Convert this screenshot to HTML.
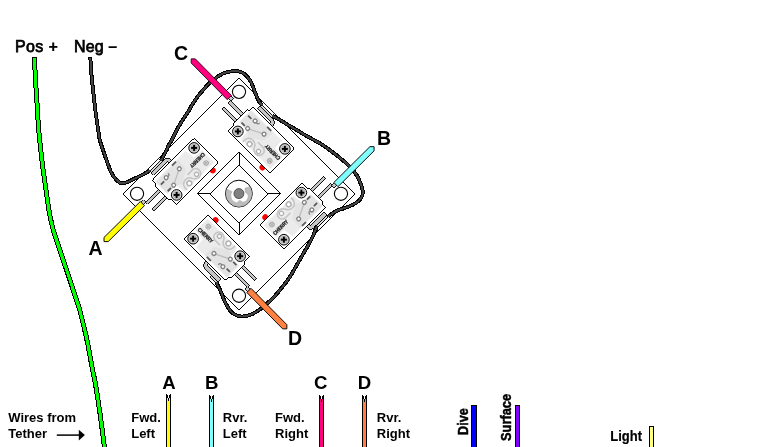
<!DOCTYPE html>
<html>
<head>
<meta charset="utf-8">
<title>Joystick wiring</title>
<style>
html,body{margin:0;padding:0;background:#fff;}
body{width:775px;height:447px;overflow:hidden;position:relative;font-family:"Liberation Sans",sans-serif;}
svg{position:absolute;left:0;top:0;display:block;will-change:transform;}
text{font-family:"Liberation Sans",sans-serif;fill:#000;}
.b{font-weight:bold;}
</style>
</head>
<body>
<svg width="775" height="447" viewBox="0 0 775 447">
<defs>
  <!-- screw -->
  <g id="screw">
    <circle r="5.3" fill="#d6d6d6" stroke="#000" stroke-width="1" shape-rendering="geometricPrecision"/>
    <circle r="3.8" fill="#b8b8b8" shape-rendering="geometricPrecision"/>
    <rect x="-3" y="-0.95" width="6" height="1.9" fill="#000" shape-rendering="geometricPrecision"/>
    <rect x="-0.95" y="-3" width="1.9" height="6" fill="#000" shape-rendering="geometricPrecision"/>
  </g>
  <!-- one micro switch, drawn in un-rotated plate frame (top position) -->
  <g id="sw">
    <!-- terminals -->
    <g fill="#c6c6c6" stroke="#000" stroke-width="0.9">
      <rect x="-72" y="-60.1" width="20" height="3"/>
      <rect x="-76.4" y="-63.4" width="4.8" height="3.6"/>
      <rect x="-72.3" y="-50.6" width="20" height="3"/>
      <!-- common terminal with crimp -->
      <path d="M-47.2,-77 L-29,-77 Q-24.4,-77 -24.4,-73.6 L-24.4,-70 L-28,-70 L-28,-73.3 L-47.2,-73.3 Z"/>
    </g>
    <!-- plunger -->
    <circle cx="-2" cy="-35.2" r="3" fill="#ff0000" shape-rendering="geometricPrecision"/>
    <!-- body -->
    <path d="M-50.4,-71 L6.3,-71 Q7.5,-71 7.5,-69.8 L7.5,-38.2 Q7.5,-36.7 6,-36.7 L-50.8,-36.7 Q-52,-36.7 -52,-37.9 L-52,-44.6 L-53.9,-45.6 L-53.9,-64.4 Q-53.8,-65.4 -52.6,-65.8 Q-51.6,-66.2 -51.6,-67.2 L-51.6,-69.8 Q-51.6,-71 -50.4,-71 Z" fill="#fff" stroke="#000" stroke-width="1"/>
    <!-- inner shading -->
    <path d="M-50.5,-68 L-7.5,-68 L-6.5,-57.5 L4.6,-57 L4.6,-40 L-37,-40 L-38.5,-50.5 L-50.5,-51 Z" fill="#ebebeb" shape-rendering="geometricPrecision"/>
    <path d="M-50.5,-67 L-19,-67 L-20,-55 L-33,-47 L-38.5,-50.5 L-50.5,-51 Z" fill="#e3e3e3" shape-rendering="geometricPrecision"/>
    <!-- schematic -->
    <g fill="#fff" stroke="#838383" stroke-width="1.3" shape-rendering="geometricPrecision">
      <path d="M-26,-59.2 L-38.6,-53" stroke="#bdbdbd" fill="none"/>
      <circle cx="-24.5" cy="-59.9" r="1.9"/>
      <circle cx="-40.1" cy="-52.3" r="1.9"/>
      <circle cx="-40.1" cy="-62.9" r="1.9"/>
      <path d="M-38.2,-62.6 Q-35.4,-61.6 -35.6,-64.8" fill="none"/>
    </g>
    <g fill="#5a5a5a" shape-rendering="geometricPrecision">
      <rect x="-27.4" y="-68.2" width="5.6" height="1.8"/>
      <rect x="-48.8" y="-62.6" width="4.6" height="1.8"/>
      <rect x="-48.6" y="-53.1" width="4.6" height="1.8"/>
    </g>
    <!-- cam -->
    <g fill="none" stroke="#b0b0b0" stroke-width="1.2" shape-rendering="geometricPrecision">
      <path d="M-34,-39.4 Q-34.6,-47.6 -28,-47.8 Q-23.6,-47.6 -22.2,-44 Q-20,-40 -16.2,-39.8 Q-11.2,-40.6 -11.4,-45.6 Q-11.8,-49.2 -16,-49.8 L-23,-49.8" stroke="#c4c4c4" stroke-width="1.5"/>
      <circle cx="-16.2" cy="-43.8" r="2.1" fill="#fff"/>
      <circle cx="-27.6" cy="-42.6" r="2.4" fill="#fff" stroke-width="1.4"/>
      <circle cx="-1.5" cy="-45" r="2.3"/>
      <path d="M-3.8,-45 L0.8,-45 M-1.5,-47.3 L-1.5,-42.7"/>
    </g>
    <!-- CHERRY (upside down) -->
    <text transform="translate(3.9,-55) rotate(180)" font-size="5.4" font-weight="bold" fill="#333" stroke="#333" stroke-width="0.3" textLength="19" lengthAdjust="spacingAndGlyphs">CHERRY</text>
    <!-- screws -->
    <use href="#screw" transform="translate(0.7,-64.2) rotate(45)"/>
    <use href="#screw" transform="translate(-44.9,-43.3) rotate(45)"/>
  </g>
  <g id="crimp" fill="#c6c6c6" stroke="#000" stroke-width="0.9">
    <rect x="-50" y="-82" width="20.4" height="2.8" fill="#fff"/>
    <rect x="-46.5" y="-79.2" width="15.5" height="2.2" fill="#d8d8d8"/>
  </g>
  <g id="crimp2" fill="#c6c6c6" stroke="#000" stroke-width="0.9">
    <rect x="-46.5" y="-79.2" width="8" height="2.2" fill="#d8d8d8"/>
  </g>
</defs>

<!-- plate and switches (rotated frame) -->
<g transform="translate(239,193.8) rotate(-45)" shape-rendering="crispEdges">
  <rect x="-82" y="-82" width="164" height="164" fill="#fff" stroke="#000" stroke-width="1"/>
  <circle cx="-72.1" cy="-72.1" r="6.6" fill="#fff" stroke="#000" stroke-width="1.1" shape-rendering="geometricPrecision"/>
  <circle cx="72.1" cy="-72.1" r="6.6" fill="#fff" stroke="#000" stroke-width="1.1" shape-rendering="geometricPrecision"/>
  <circle cx="72.1" cy="72.1" r="6.6" fill="#fff" stroke="#000" stroke-width="1.1" shape-rendering="geometricPrecision"/>
  <circle cx="-72.1" cy="72.1" r="6.6" fill="#fff" stroke="#000" stroke-width="1.1" shape-rendering="geometricPrecision"/>
  <!-- joystick boot -->
  <rect x="-29.4" y="-29.4" width="58.8" height="58.8" fill="#fff" stroke="#000" stroke-width="1"/>
  <rect x="-20.5" y="-20.5" width="41" height="41" fill="#fff" stroke="#000" stroke-width="1"/>
  <path d="M-29.4,-29.4 L-20.5,-20.5 M29.4,-29.4 L20.5,-20.5 M29.4,29.4 L20.5,20.5 M-29.4,29.4 L-20.5,20.5" stroke="#000" stroke-width="1" fill="none"/>
  <use href="#crimp"/>
  <use href="#crimp" transform="rotate(90)"/>
  <use href="#crimp" transform="rotate(180)"/>
  <use href="#crimp2" transform="rotate(270)"/>
  <use href="#sw"/>
  <use href="#sw" transform="rotate(90)"/>
  <use href="#sw" transform="rotate(180)"/>
  <use href="#sw" transform="rotate(270)"/>
</g>

<!-- joystick shaft -->
<g transform="translate(238.9,193.6)">
  <circle r="13.4" fill="#fff" stroke="#000" stroke-width="1"/>
  <path d="M-11.9,-4.3 L-7,-2.2 Q-8.6,1 -7.8,4.2 Q-7.2,6.4 -5.8,7.4 Q-4,9 -1.8,9.4 Q-0.4,7 0.6,6.8 Q2,7 3.9,8.6 Q6.4,8.4 7.9,6.6 Q9.6,4.4 9.3,1.8 Q8.6,-0.6 6.3,-1.45 L6.1,-5.5 L10.9,-6.7 A12.8,12.8 0 1 1 -11.9,-4.3 Z" fill="#bcbcbc" stroke="#a0a0a0" stroke-width="0.5"/>
  <circle r="5" fill="#808080" stroke="#303030" stroke-width="0.7"/>
</g>

<!-- black (Neg) wire -->
<g fill="none" stroke-linecap="butt" stroke-linejoin="round" shape-rendering="crispEdges">
  <g stroke="#000" stroke-width="3.9">
    <path d="M90.3,57.2 C90.5,60.2 91.0,69.2 91.5,75.0 C92.0,80.8 92.5,85.3 93.3,92.0 C94.0,98.7 95.1,108.4 96.0,115.0 C96.9,121.6 97.9,127.6 98.5,131.8 C99.1,136.0 99.0,136.8 99.8,140.0 C100.6,143.2 102.2,147.5 103.4,151.2 C104.7,154.9 106.0,158.9 107.3,162.4 C108.6,165.9 109.8,169.6 111.2,172.4 C112.6,175.2 114.0,177.3 115.7,179.1 C117.4,180.9 119.3,182.8 121.3,183.3 C123.2,183.8 125.3,182.8 127.4,182.1 C129.5,181.3 131.9,179.9 134.1,178.8 C136.3,177.8 138.6,176.7 140.4,175.8 C142.2,174.9 143.4,174.3 145.0,173.4 C146.6,172.5 148.9,171.0 149.7,170.5"/>
    <path d="M161.0,160.5 C161.4,159.7 162.7,157.3 163.6,155.6 C164.5,153.8 165.8,151.6 166.6,150.0 C167.4,148.4 167.5,147.6 168.4,145.8 C169.3,144.1 170.8,141.7 172.0,139.5 C173.2,137.3 174.3,134.9 175.6,132.4 C176.9,129.9 178.5,126.8 180.0,124.3 C181.5,121.8 182.9,119.6 184.5,117.2 C186.1,114.8 188.1,112.0 189.3,110.0 C190.5,108.0 190.5,107.5 191.8,105.4 C193.1,103.3 195.2,99.9 197.0,97.5 C198.8,95.1 200.6,92.9 202.4,90.8 C204.2,88.7 205.9,86.7 207.7,84.9 C209.4,83.2 211.0,81.8 212.9,80.3 C214.8,78.8 217.1,76.9 219.2,75.6 C221.3,74.3 223.3,73.3 225.4,72.6 C227.5,71.9 229.7,71.5 231.9,71.3 C234.1,71.1 236.7,71.0 238.6,71.3 C240.5,71.6 241.7,72.1 243.2,73.1 C244.7,74.1 246.3,75.5 247.6,77.1 C248.9,78.7 250.2,80.5 251.2,82.5 C252.2,84.5 252.9,86.7 253.8,88.9 C254.7,91.2 255.6,93.9 256.5,96.0 C257.4,98.1 258.1,99.8 259.0,101.3 C259.9,102.8 261.5,104.4 262.0,105.0"/>
    <path d="M272.0,115.7 C273.0,116.2 275.4,117.4 277.9,118.8 C280.4,120.2 283.8,122.4 286.8,124.2 C289.8,126.0 292.8,127.7 295.8,129.5 C298.8,131.3 301.7,133.2 304.7,134.9 C307.7,136.6 310.7,138.2 313.7,139.9 C316.7,141.6 319.6,143.1 322.6,145.0 C325.6,146.9 329.1,149.6 331.7,151.5 C334.3,153.4 336.2,154.9 338.4,156.7 C340.6,158.5 342.9,160.2 345.1,162.3 C347.3,164.4 349.8,166.7 351.8,169.0 C353.9,171.3 355.9,173.8 357.4,176.3 C358.9,178.8 359.9,181.7 360.8,184.1 C361.7,186.5 362.3,188.7 362.6,190.5 C362.9,192.3 362.8,193.5 362.4,195.0 C362.0,196.5 361.2,197.9 360.1,199.3 C359.0,200.7 357.4,202.0 355.6,203.2 C353.8,204.4 351.5,205.4 349.4,206.3 C347.3,207.2 345.2,207.8 343.1,208.6 C341.0,209.3 338.7,209.9 336.8,210.8 C334.9,211.7 333.5,212.8 332.0,213.8 C330.5,214.8 328.7,216.1 328.0,216.6"/>
    <path d="M316.8,225.8 C316.3,227.2 315.0,231.5 313.7,234.5 C312.4,237.5 310.8,240.5 309.0,243.8 C307.2,247.1 304.9,250.9 302.8,254.5 C300.7,258.1 298.6,261.8 296.5,265.5 C294.4,269.2 292.2,273.4 289.9,276.9 C287.6,280.4 285.4,283.2 282.9,286.3 C280.4,289.4 277.7,292.8 275.1,295.7 C272.5,298.6 269.8,301.1 267.2,303.5 C264.6,305.9 262.2,307.9 259.4,309.8 C256.6,311.7 253.5,313.6 250.5,314.7 C247.5,315.8 244.5,316.8 241.5,316.5 C238.5,316.2 235.2,315.3 232.6,313.1 C229.9,310.9 227.6,307.0 225.6,303.3 C223.6,299.6 221.9,294.1 220.6,291.0 C219.3,287.9 218.3,286.4 217.6,285.0 C216.9,283.6 216.6,282.8 216.4,282.3"/>
  </g>
  <g stroke="#444" stroke-width="1.9">
    <path d="M90.3,57.2 C90.5,60.2 91.0,69.2 91.5,75.0 C92.0,80.8 92.5,85.3 93.3,92.0 C94.0,98.7 95.1,108.4 96.0,115.0 C96.9,121.6 97.9,127.6 98.5,131.8 C99.1,136.0 99.0,136.8 99.8,140.0 C100.6,143.2 102.2,147.5 103.4,151.2 C104.7,154.9 106.0,158.9 107.3,162.4 C108.6,165.9 109.8,169.6 111.2,172.4 C112.6,175.2 114.0,177.3 115.7,179.1 C117.4,180.9 119.3,182.8 121.3,183.3 C123.2,183.8 125.3,182.8 127.4,182.1 C129.5,181.3 131.9,179.9 134.1,178.8 C136.3,177.8 138.6,176.7 140.4,175.8 C142.2,174.9 143.4,174.3 145.0,173.4 C146.6,172.5 148.9,171.0 149.7,170.5"/>
    <path d="M161.0,160.5 C161.4,159.7 162.7,157.3 163.6,155.6 C164.5,153.8 165.8,151.6 166.6,150.0 C167.4,148.4 167.5,147.6 168.4,145.8 C169.3,144.1 170.8,141.7 172.0,139.5 C173.2,137.3 174.3,134.9 175.6,132.4 C176.9,129.9 178.5,126.8 180.0,124.3 C181.5,121.8 182.9,119.6 184.5,117.2 C186.1,114.8 188.1,112.0 189.3,110.0 C190.5,108.0 190.5,107.5 191.8,105.4 C193.1,103.3 195.2,99.9 197.0,97.5 C198.8,95.1 200.6,92.9 202.4,90.8 C204.2,88.7 205.9,86.7 207.7,84.9 C209.4,83.2 211.0,81.8 212.9,80.3 C214.8,78.8 217.1,76.9 219.2,75.6 C221.3,74.3 223.3,73.3 225.4,72.6 C227.5,71.9 229.7,71.5 231.9,71.3 C234.1,71.1 236.7,71.0 238.6,71.3 C240.5,71.6 241.7,72.1 243.2,73.1 C244.7,74.1 246.3,75.5 247.6,77.1 C248.9,78.7 250.2,80.5 251.2,82.5 C252.2,84.5 252.9,86.7 253.8,88.9 C254.7,91.2 255.6,93.9 256.5,96.0 C257.4,98.1 258.1,99.8 259.0,101.3 C259.9,102.8 261.5,104.4 262.0,105.0"/>
    <path d="M272.0,115.7 C273.0,116.2 275.4,117.4 277.9,118.8 C280.4,120.2 283.8,122.4 286.8,124.2 C289.8,126.0 292.8,127.7 295.8,129.5 C298.8,131.3 301.7,133.2 304.7,134.9 C307.7,136.6 310.7,138.2 313.7,139.9 C316.7,141.6 319.6,143.1 322.6,145.0 C325.6,146.9 329.1,149.6 331.7,151.5 C334.3,153.4 336.2,154.9 338.4,156.7 C340.6,158.5 342.9,160.2 345.1,162.3 C347.3,164.4 349.8,166.7 351.8,169.0 C353.9,171.3 355.9,173.8 357.4,176.3 C358.9,178.8 359.9,181.7 360.8,184.1 C361.7,186.5 362.3,188.7 362.6,190.5 C362.9,192.3 362.8,193.5 362.4,195.0 C362.0,196.5 361.2,197.9 360.1,199.3 C359.0,200.7 357.4,202.0 355.6,203.2 C353.8,204.4 351.5,205.4 349.4,206.3 C347.3,207.2 345.2,207.8 343.1,208.6 C341.0,209.3 338.7,209.9 336.8,210.8 C334.9,211.7 333.5,212.8 332.0,213.8 C330.5,214.8 328.7,216.1 328.0,216.6"/>
    <path d="M316.8,225.8 C316.3,227.2 315.0,231.5 313.7,234.5 C312.4,237.5 310.8,240.5 309.0,243.8 C307.2,247.1 304.9,250.9 302.8,254.5 C300.7,258.1 298.6,261.8 296.5,265.5 C294.4,269.2 292.2,273.4 289.9,276.9 C287.6,280.4 285.4,283.2 282.9,286.3 C280.4,289.4 277.7,292.8 275.1,295.7 C272.5,298.6 269.8,301.1 267.2,303.5 C264.6,305.9 262.2,307.9 259.4,309.8 C256.6,311.7 253.5,313.6 250.5,314.7 C247.5,315.8 244.5,316.8 241.5,316.5 C238.5,316.2 235.2,315.3 232.6,313.1 C229.9,310.9 227.6,307.0 225.6,303.3 C223.6,299.6 221.9,294.1 220.6,291.0 C219.3,287.9 218.3,286.4 217.6,285.0 C216.9,283.6 216.6,282.8 216.4,282.3"/>
  </g>
  <rect x="88" y="57" width="4" height="1" fill="#000" stroke="none"/>
</g>

<!-- green (Pos) wire -->
<g shape-rendering="crispEdges"><path d="M34.5,57.5 C34.7,61.9 35.2,75.5 35.7,83.6 C36.2,91.7 36.7,98.5 37.2,105.9 C37.7,113.4 38.0,121.0 38.6,128.3 C39.2,135.7 40.1,143.7 40.8,150.0 C41.5,156.3 41.9,160.7 42.6,166.1 C43.3,171.5 44.1,176.8 44.9,182.2 C45.7,187.6 46.4,192.9 47.2,198.3 C48.0,203.7 48.7,209.1 49.7,214.4 C50.7,219.7 51.8,224.7 53.3,230.0 C54.8,235.3 56.8,240.7 58.6,246.1 C60.4,251.5 62.2,256.8 64.0,262.2 C65.8,267.6 67.6,272.9 69.4,278.3 C71.2,283.7 73.0,289.1 74.7,294.4 C76.4,299.7 78.1,304.3 79.7,310.0 C81.3,315.7 83.1,323.1 84.4,328.6 C85.7,334.1 86.6,338.2 87.6,343.0 C88.6,347.8 89.5,353.0 90.3,357.3 C91.1,361.6 91.6,364.7 92.4,369.0 C93.2,373.3 94.4,378.1 95.3,383.1 C96.2,388.1 97.1,393.8 97.9,399.2 C98.7,404.6 99.5,409.9 100.3,415.3 C101.0,420.7 101.7,425.8 102.4,431.4 C103.1,437.0 104.2,446.1 104.6,449.0" fill="none" stroke="#000" stroke-width="5"/>
<path d="M34.5,57.5 C34.7,61.9 35.2,75.5 35.7,83.6 C36.2,91.7 36.7,98.5 37.2,105.9 C37.7,113.4 38.0,121.0 38.6,128.3 C39.2,135.7 40.1,143.7 40.8,150.0 C41.5,156.3 41.9,160.7 42.6,166.1 C43.3,171.5 44.1,176.8 44.9,182.2 C45.7,187.6 46.4,192.9 47.2,198.3 C48.0,203.7 48.7,209.1 49.7,214.4 C50.7,219.7 51.8,224.7 53.3,230.0 C54.8,235.3 56.8,240.7 58.6,246.1 C60.4,251.5 62.2,256.8 64.0,262.2 C65.8,267.6 67.6,272.9 69.4,278.3 C71.2,283.7 73.0,289.1 74.7,294.4 C76.4,299.7 78.1,304.3 79.7,310.0 C81.3,315.7 83.1,323.1 84.4,328.6 C85.7,334.1 86.6,338.2 87.6,343.0 C88.6,347.8 89.5,353.0 90.3,357.3 C91.1,361.6 91.6,364.7 92.4,369.0 C93.2,373.3 94.4,378.1 95.3,383.1 C96.2,388.1 97.1,393.8 97.9,399.2 C98.7,404.6 99.5,409.9 100.3,415.3 C101.0,420.7 101.7,425.8 102.4,431.4 C103.1,437.0 104.2,446.1 104.6,449.0" fill="none" stroke="#00ff00" stroke-width="3"/>
<rect x="32" y="57" width="5" height="1" fill="#000"/></g>

<!-- coloured leads -->
<g stroke="#000" stroke-width="0.9" stroke-linejoin="miter">
  <path d="M0,-2.95 L51.5,-2.95 L54.4,0 L51.5,2.95 L0,2.95 Z" transform="translate(229.4,97.6) rotate(225.4)" fill="#ff007f" stroke-width="0.75"/>
  <path d="M0,-2.95 L50.9,-2.95 L53.8,0 L50.9,2.95 L0,2.95 Z" transform="translate(335.9,184.6) rotate(-44.8)" fill="#80ffff"/>
  <path d="M0,-2.95 L51.1,-2.95 L54.0,0 L51.1,2.95 L0,2.95 Z" transform="translate(142.4,203.6) rotate(135.3)" fill="#ffff00"/>
  <path d="M0,-2.95 L51.1,-2.95 L54.0,0 L51.1,2.95 L0,2.95 Z" transform="translate(248.9,290.4) rotate(45.4)" fill="#ff8040"/>
</g>

<!-- labels -->
<text x="15" y="51.9" font-size="16" stroke="#000" stroke-width="0.75" letter-spacing="0.35">Pos <tspan font-weight="bold" stroke-width="0.2">+</tspan></text>
<text x="74" y="51.9" font-size="16" stroke="#000" stroke-width="0.75" letter-spacing="0.1">Neg <tspan font-weight="bold" stroke-width="0.2">–</tspan></text>
<text class="b" id="lC" x="174.1" y="59.6" font-size="19.5">C</text>
<text class="b" id="lB" x="377" y="144.6" font-size="19.5">B</text>
<text class="b" id="lA" x="88.4" y="254.8" font-size="19.5">A</text>
<text class="b" id="lD" x="288.1" y="344.7" font-size="19.5">D</text>

<!-- bottom legend -->
<text class="b" x="8.3" y="422.4" font-size="13">Wires from</text>
<text class="b" x="8.3" y="438.4" font-size="13">Tether</text>
<path d="M56.8,435.1 L80,435.1" stroke="#000" stroke-width="1.5" fill="none"/>
<path d="M78.8,429.7 L84.9,435.1 L78.8,440.5 Z" fill="#000"/>

<text class="b" x="162.2" y="389.1" font-size="18.6">A</text>
<text class="b" x="204.9" y="389.1" font-size="18.6">B</text>
<text class="b" x="314.1" y="389.1" font-size="18.6">C</text>
<text class="b" x="357.8" y="389.1" font-size="18.6">D</text>

<g stroke="#000" stroke-width="1" shape-rendering="crispEdges">
  <path d="M166.5,394 L168.5,399.2 L170.5,394 L170.5,449 L166.5,449 Z" fill="#ffff00"/>
  <path d="M209.5,395 L211.5,400.2 L213.5,395 L213.5,449 L209.5,449 Z" fill="#80ffff"/>
  <path d="M319.5,395 L321.5,400.2 L323.5,395 L323.5,449 L319.5,449 Z" fill="#ff007f"/>
  <path d="M362.5,395 L364.5,400.2 L366.5,395 L366.5,449 L362.5,449 Z" fill="#ff8040"/>
  <rect x="471.5" y="405.5" width="5" height="45" fill="#0000ff"/>
  <rect x="515.5" y="405.5" width="4" height="45" fill="#8000ff"/>
  <rect x="649.5" y="426.5" width="4" height="24" fill="#ffff80"/>
</g>

<text class="b" x="131.2" y="422" font-size="13">Fwd.</text>
<text class="b" x="131.2" y="438" font-size="13">Left</text>
<text class="b" x="222.8" y="422" font-size="13">Rvr.</text>
<text class="b" x="222.8" y="438" font-size="13">Left</text>
<text class="b" x="275" y="422" font-size="13">Fwd.</text>
<text class="b" x="275" y="438" font-size="13">Right</text>
<text class="b" x="376.8" y="422" font-size="13">Rvr.</text>
<text class="b" x="376.8" y="438" font-size="13">Right</text>
<text class="b" transform="translate(468.2,434.9) rotate(-90) scale(0.97,1.14)" font-size="13" stroke="#000" stroke-width="0.45">Dive</text>
<text class="b" transform="translate(511.2,441) rotate(-90) scale(0.99,1.1)" font-size="13" stroke="#000" stroke-width="0.45">Surface</text>
<text class="b" transform="translate(610.3,440.9) scale(1,1.12)" font-size="13" stroke="#000" stroke-width="0.2">Light</text>
</svg>
</body>
</html>
